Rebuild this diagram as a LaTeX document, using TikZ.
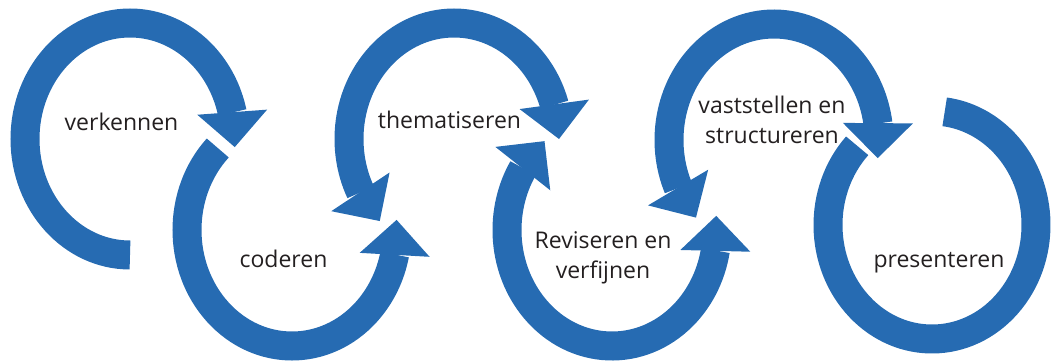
\documentclass[tikz,border=0pt]{standalone}
\usepackage{fontspec}
\setmainfont{Open Sans}
\usetikzlibrary{arrows.meta,bending}
\definecolor{cycleblue}{RGB}{38,107,178}
\definecolor{txtgray}{RGB}{35,31,32}
\tikzstyle{ring}=[draw=cycleblue, line width=29pt]
\tikzstyle{stage}=[text=txtgray, font=\fontsize{23}{30}\selectfont, align=center, inner sep=0pt]
\begin{document}
\begin{tikzpicture}[x=1pt, y=1pt, >={Triangle[width=70pt,length=35pt,line width=0pt]}]
    \useasboundingbox (0,0) rectangle (1052,360);
    \coordinate (c1) at (130,221);
    \coordinate (c2) at (292,130);
    \coordinate (c3) at (454,221);
    \coordinate (c4) at (612,130);
    \coordinate (c5) at (774,220);
    \coordinate (c6) at (932,135);
    \draw[ring,->] ([shift={(270:105 and 116)}]c1) arc[start angle=270, end angle=-4, x radius=105, y radius=116];
    \draw[ring,->] ([shift={(135:105 and 116)}]c2) arc[start angle=135, end angle=365, x radius=105, y radius=116];
    \draw[ring,<->] ([shift={(225:105 and 116)}]c3) arc[start angle=225, end angle=0, x radius=105, y radius=116];
    \draw[ring,<->] ([shift={(130:105 and 116)}]c4) arc[start angle=130, end angle=367, x radius=105, y radius=116];
    \draw[ring,<->] ([shift={(222:105 and 116)}]c5) arc[start angle=222, end angle=-9, x radius=105, y radius=116];
    \draw[ring] ([shift={(136:104 and 114)}]c6) arc[start angle=136, end angle=443, x radius=104, y radius=114];
    \node[stage, anchor=base] (verkennen) at (121.5,230) {verkennen};
    \node[stage, anchor=base] (coderen) at (283.5,93) {coderen};
    \node[stage, anchor=base] (thematiseren) at (449.5,232) {thematiseren};
    \node[stage, anchor=base] (reviseren) at (603,82) {Reviseren en\\verfijnen};
    \node[stage, anchor=base] (vaststellen) at (772,217) {vaststellen en\\structureren};
    \node[stage, anchor=base] (presenteren) at (939,93) {presenteren};
\end{tikzpicture}
\end{document}
